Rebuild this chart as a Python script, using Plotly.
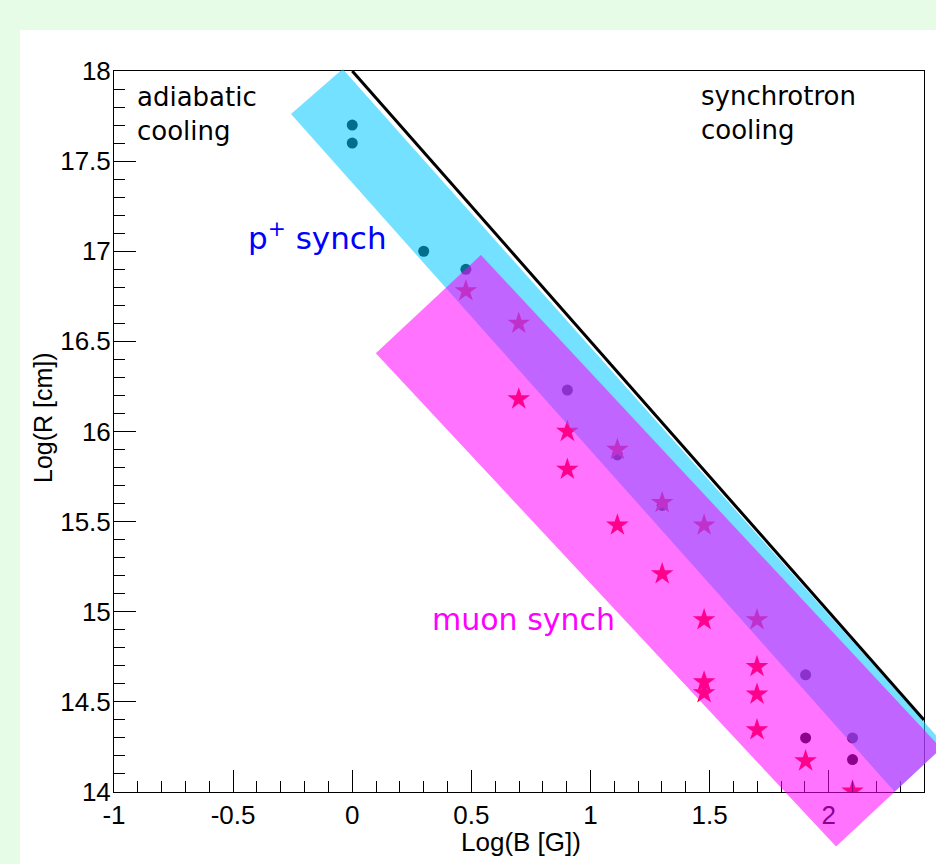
import plotly.graph_objects as go

# ---- data ----
circle_logB = [0.0, 0.0, 0.3, 0.477, 0.903, 1.113, 1.301, 1.903, 1.903, 2.1, 2.1]
circle_logR = [17.70, 17.60, 17.00, 16.90, 16.23, 15.87, 15.59, 14.65, 14.30, 14.30, 14.18]

star_logB = [0.477, 0.699, 0.699, 0.903, 0.903, 1.113, 1.113, 1.301, 1.301,
             1.477, 1.477, 1.477, 1.477, 1.699, 1.699, 1.699, 1.699, 1.903, 2.1]
star_logR = [16.78, 16.60, 16.18, 16.00, 15.79, 15.90, 15.48, 15.605, 15.21,
             15.48, 14.955, 14.61, 14.55, 14.955, 14.695, 14.542, 14.344, 14.172, 14.005]

# proton-synchrotron band (corners)
p_band_x = [-0.040, -0.257, 2.277, 2.487, -0.040]
p_band_y = [18.011, 17.761, 14.001, 14.261, 18.011]

# muon-synchrotron band (corners)
mu_band_x = [0.540, 0.099, 2.031, 2.472, 0.540]
mu_band_y = [16.979, 16.434, 13.697, 14.242, 16.979]

# adiabatic / synchrotron boundary
limit_x = [0.0, 2.4]
limit_y = [18.0, 14.4]

x_range = [-1, 2.4]
y_range = [14, 18]
x_ticks = [-1, -0.5, 0, 0.5, 1, 1.5, 2]
y_ticks = [14, 14.5, 15, 15.5, 16, 16.5, 17, 17.5, 18]

# ---- layout geometry ----
W, H = 936, 864
fx0, fx1 = 114 / W, 924 / W          # frame in paper units
fy0, fy1 = 1 - 792 / H, 1 - 71 / H

# overlay axes covering the whole canvas with the same scale (bands are not clipped to the frame)
sx = (x_range[1] - x_range[0]) / (fx1 - fx0)
sy = (y_range[1] - y_range[0]) / (fy1 - fy0)
x2_range = [x_range[0] - fx0 * sx, x_range[0] + (1 - fx0) * sx]
y2_range = [y_range[0] - fy0 * sy, y_range[0] + (1 - fy0) * sy]

TICKFONT = dict(family="Liberation Sans, Arial, sans-serif", size=26, color="black")
TXTFONT = "DejaVu Sans, sans-serif"

fig = go.Figure()

fig.add_trace(go.Scatter(x=circle_logB, y=circle_logR, mode="markers",
                         marker=dict(symbol="circle", size=11, color="black"),
                         xaxis="x", yaxis="y", showlegend=False))
fig.add_trace(go.Scatter(x=star_logB, y=star_logR, mode="markers",
                         marker=dict(symbol="star", size=17, color="#ff0000",
                                     line=dict(width=0)),
                         xaxis="x", yaxis="y", showlegend=False))

fig.add_trace(go.Scatter(x=p_band_x, y=p_band_y, mode="lines", fill="toself",
                         fillcolor="rgba(0,200,255,0.55)", line=dict(width=0),
                         xaxis="x2", yaxis="y2", showlegend=False, hoverinfo="skip"))
fig.add_trace(go.Scatter(x=mu_band_x, y=mu_band_y, mode="lines", fill="toself",
                         fillcolor="rgba(255,0,255,0.55)", line=dict(width=0),
                         xaxis="x2", yaxis="y2", showlegend=False, hoverinfo="skip"))
fig.add_trace(go.Scatter(x=limit_x, y=limit_y, mode="lines",
                         line=dict(color="black", width=3),
                         xaxis="x2", yaxis="y2", showlegend=False))

axis_common = dict(showgrid=False, zeroline=False, showline=True, mirror=True,
                   linecolor="black", linewidth=1, ticks="inside", ticklen=22,
                   tickwidth=1, tickcolor="black", tickfont=TICKFONT, automargin=False,
                   minor=dict(ticks="inside", ticklen=11, dtick=0.1, tickcolor="black",
                              tickwidth=1, showgrid=False))

fig.update_layout(
    template="none",
    width=W, height=H, autosize=False,
    margin=dict(l=0, r=0, t=0, b=0, pad=0, autoexpand=False),
    paper_bgcolor="#e6fce6",
    plot_bgcolor="rgba(0,0,0,0)",
    xaxis=dict(domain=[fx0, fx1], range=x_range, tickmode="array", tickvals=x_ticks,
               ticktext=[("%g" % v) for v in x_ticks], anchor="y", **axis_common),
    yaxis=dict(domain=[fy0, fy1], range=y_range, tickmode="array", tickvals=y_ticks,
               ticktext=[("%g" % v) for v in y_ticks], anchor="x",
               ticklabelstandoff=-3, **axis_common),
    xaxis2=dict(domain=[0, 1], range=x2_range, visible=False, anchor="y2",
                fixedrange=True, automargin=False),
    yaxis2=dict(domain=[0, 1], range=y2_range, visible=False, anchor="x2",
                fixedrange=True, automargin=False),
    shapes=[dict(type="rect", xref="paper", yref="paper", x0=20 / W, x1=1,
                 y0=0, y1=1 - 30 / H, fillcolor="white", line=dict(width=0), layer="below")],
)

ann = [
    dict(text="adiabatic<br>cooling", x=135 / W, y=1 - 80 / H, xanchor="left", yanchor="top",
         font=dict(family=TXTFONT, size=26, color="black"), align="left"),
    dict(text="synchrotron<br>cooling", x=699 / W, y=1 - 79 / H, xanchor="left", yanchor="top",
         font=dict(family=TXTFONT, size=26, color="black"), align="left"),
    dict(text="p<sup>+</sup> synch", x=246 / W, y=1 - 236 / H, xanchor="left", yanchor="middle",
         font=dict(family=TXTFONT, size=31, color="#0000ff")),
    dict(text="muon synch", x=430 / W, y=1 - 619 / H, xanchor="left", yanchor="middle",
         font=dict(family=TXTFONT, size=30, color="#ff00ff")),
    dict(text="Log(B [G])", x=521 / W, y=1 - 842 / H, xanchor="center", yanchor="middle",
         font=dict(family="Liberation Sans, Arial, sans-serif", size=26, color="black")),
    dict(text="Log(R [cm])", x=43 / W, y=1 - 418 / H, xanchor="center", yanchor="middle",
         textangle=-90,
         font=dict(family="Liberation Sans, Arial, sans-serif", size=25, color="black")),
]
for a in ann:
    a.update(xref="paper", yref="paper", showarrow=False)
fig.update_layout(annotations=ann)

fig.write_html("out.html")
